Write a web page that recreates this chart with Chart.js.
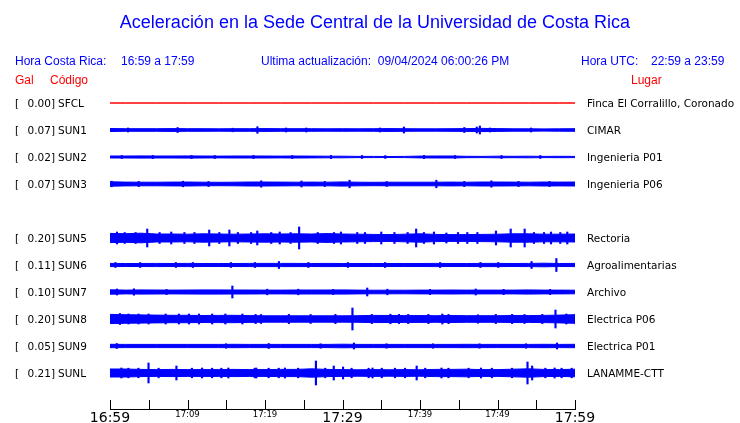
<!DOCTYPE html>
<html>
<head>
<meta charset="utf-8">
<script src="https://cdn.jsdelivr.net/npm/chart.js@4.4.1/dist/chart.umd.min.js"></script>
<style>
  html, body { margin: 0; padding: 0; background: #fff; overflow: hidden; }
  #wrap { position: relative; width: 740px; height: 423px; }
  #trazas { position: absolute; left: 0; top: 0; }
  .txt { position: absolute; white-space: nowrap; line-height: 1; }
  .head { font-family: 'Liberation Sans', Arial, sans-serif; font-size: 12px; color: #0000ff; }
  .red { color: #ff0000; }
  .row { font-family: 'DejaVu Sans', sans-serif; font-size: 10.5px; color: #000; transform: translateY(-50%); }
  .gal { display: inline-block; width: 40px; text-align: right; }
</style>
</head>
<body>
<div id="wrap">
  <canvas id="trazas" width="740" height="423"></canvas>
</div>
<script>
// estaciones (SUN4 no aparece, queda el hueco)
const codigos = ['SFCL', 'SUN1', 'SUN2', 'SUN3', 'SUN5', 'SUN6', 'SUN7', 'SUN8', 'SUN9', 'SUNL'];
const galMax = ['0.00', '0.07', '0.02', '0.07', '0.20', '0.11', '0.10', '0.20', '0.05', '0.21'];
const lugares = ['Finca El Corralillo, Coronado', 'CIMAR', 'Ingenieria P01', 'Ingenieria P06', 'Rectoria',
    'Agroalimentarias', 'Archivo', 'Electrica P06', 'Electrica P01', 'LANAMME-CTT'];

// eje de tiempo (minutos desde 16:59)
const horas = ['16:59', '17:09', '17:19', '17:29', '17:39', '17:49', '17:59'];
const horasGrandes = ['16:59', '17:29', '17:59'];

// envolvente de cada traza, una muestra cada 2 minutos (0..60)
const envSFCL = [0, 0, 0, 0, 0, 0, 0, 0, 0, 0, 0, 0, 0, 0, 0, 0, 0, 0, 0, 0, 0, 0, 0, 0, 0, 0, 0, 0, 0, 0, 0];
const envSUN1 = [1.5, 1.3, 1.3, 1.3, 1.4, 1.3, 1.3, 1.2, 1.3, 1.3, 1.4, 1.3, 1.3, 1.3, 1.2, 1.3, 1.2, 1.3, 1.4, 1.3, 1.2, 1.2, 1.3, 1.4, 1.6, 1.4, 1.2, 1.2, 1.1, 1.2, 1.3];
const envSUN2 = [1.0, 1.0, 1.1, 1.0, 1.0, 1.1, 1.0, 0.9, 1.0, 1.0, 1.0, 0.9, 1.0, 0.9, 0.8, 0.8, 0.6, 0.6, 0.5, 0.6, 0.9, 1.0, 1.0, 0.7, 0.6, 0.8, 0.7, 0.8, 0.6, 0.7, 0.6];
const envSUN3 = [2.2, 1.9, 1.8, 1.8, 1.9, 2.0, 1.8, 1.7, 1.8, 2.0, 2.0, 1.9, 1.8, 1.9, 1.8, 2.1, 1.8, 1.7, 1.8, 1.8, 1.8, 1.8, 1.9, 1.8, 2.0, 2.0, 1.9, 1.8, 2.0, 1.9, 2.0];
const envSUN5 = [4.6, 4.3, 4.8, 4.0, 4.0, 3.8, 4.2, 4.0, 3.8, 4.0, 4.2, 4.0, 4.2, 4.0, 4.4, 4.0, 3.8, 3.6, 3.4, 3.8, 4.2, 3.6, 3.4, 3.4, 3.6, 3.8, 4.2, 4.2, 3.8, 3.8, 4.0];
const envSUN6 = [1.6, 1.5, 1.5, 1.6, 1.5, 1.6, 1.5, 1.5, 1.5, 1.6, 1.6, 1.6, 1.6, 1.5, 1.6, 1.5, 1.5, 1.5, 1.5, 1.5, 1.5, 1.6, 1.5, 1.5, 1.6, 1.6, 1.5, 1.6, 1.8, 1.5, 1.6];
const envSUN7 = [2.2, 1.9, 2.1, 2.0, 1.9, 2.0, 2.1, 2.1, 2.0, 2.0, 1.9, 1.9, 2.0, 2.0, 2.0, 2.1, 1.9, 1.8, 1.8, 1.8, 1.9, 1.9, 2.0, 1.9, 1.9, 1.9, 1.9, 2.1, 1.9, 1.9, 1.8];
const envSUN8 = [4.6, 4.3, 4.1, 3.9, 3.7, 3.7, 3.5, 3.6, 3.7, 3.4, 3.2, 3.2, 3.2, 3.2, 3.2, 3.2, 3.3, 3.6, 3.5, 3.4, 3.4, 3.3, 3.5, 3.3, 3.3, 3.3, 3.5, 3.4, 3.6, 3.9, 4.3];
const envSUN9 = [1.7, 1.6, 1.6, 1.6, 1.6, 1.6, 1.6, 1.6, 1.7, 1.6, 1.6, 1.6, 1.6, 1.6, 1.6, 1.8, 1.6, 1.6, 1.6, 1.6, 1.6, 1.6, 1.6, 1.7, 1.6, 1.6, 1.6, 1.6, 1.7, 1.6, 1.7];
const envSUNL = [4.0, 4.0, 3.6, 3.4, 3.6, 3.4, 3.4, 3.4, 3.6, 3.4, 3.4, 3.6, 3.6, 4.2, 3.6, 3.4, 3.2, 3.4, 3.2, 3.4, 3.2, 3.6, 3.6, 3.8, 3.4, 3.4, 3.8, 4.2, 3.6, 3.4, 3.8];

// picos: [minuto, semiamplitud]
const picSFCL = [];
const picSUN1 = [[3, 2], [9.4, 2.5], [16.5, 1.8], [19.7, 3.3], [23.4, 2], [26, 2], [35.5, 2], [38.6, 3], [46.4, 2.5], [48, 3], [48.4, 4], [49.7, 2], [55, 2]];
const picSUN2 = [[2, 1.5], [6, 1.6], [11, 1.5], [14, 1.5], [19, 1.6], [24, 1.5], [29, 1.6], [33, 1.5], [36, 1.4], [41, 1.6], [45, 1.5], [51, 1.5], [56, 1.5]];
const picSUN3 = [[0.5, 2.8], [4, 2.6], [9.7, 2.8], [13, 2.5], [19.8, 3.2], [25, 3], [28, 2.6], [31.2, 3.8], [36, 2.5], [42.4, 3.8], [46, 2.6], [49.5, 3.2], [53, 2.6], [57, 2.6]];
const picSUN5 = [[1, 6], [4.9, 9], [8, 6], [12.9, 8], [15.5, 8], [19.1, 7], [22, 6], [24.5, 11], [29.9, 6], [33, 5.5], [35.1, 6], [39.6, 9], [41.9, 6], [45, 5.5], [49.9, 7], [51.8, 9], [53.6, 9], [57, 6], [59.1, 6],
    [2, 5.5], [3.4, 5.5], [6.5, 5.5], [9.7, 5.5], [11, 5.5], [14.2, 5.5], [16.6, 5.5], [18.3, 5.5], [20.9, 5.5], [23.4, 5.5], [26.9, 5.5], [29, 5.5], [32, 5.5], [36.8, 5.5], [38.5, 5.5], [40.6, 5.5], [43.5, 5], [46.2, 5.5], [47.5, 5.5], [54.8, 5.5], [56.1, 5.5], [58.2, 5.5]];
const picSUN6 = [[0.6, 2.5], [3.8, 2.5], [8.4, 2.5], [10.6, 2.5], [15.5, 2.5], [18.6, 2.5], [21.7, 3.5], [25.5, 2.5], [30.6, 2.5], [35.4, 2.5], [42.5, 2.5], [47.7, 2.5], [50, 2.5], [54.3, 3.5], [57.5, 6.5]];
const picSUN7 = [[0.6, 3], [2.8, 3.2], [7, 2.6], [15.5, 6], [20, 2.8], [24, 2.8], [28.5, 2.6], [32.9, 4], [35.5, 2.8], [41, 2.6], [46.9, 3], [50.5, 2.6], [56.5, 2.6]];
const picSUN8 = [[0.8, 5.5], [4.5, 5], [8.4, 5], [12.7, 5], [19, 4.5], [25.4, 4.5], [30.8, 11], [35.7, 4.8], [42.4, 5], [47, 4.2], [53, 4.5], [57, 9], [59.6, 5],
    [1.9, 5], [3.2, 5], [6.7, 5], [9.7, 5], [11, 5], [14.4, 5], [16.6, 5], [18.3, 4.6], [22.6, 4.6], [28.6, 4.6], [33.3, 4.6], [36.8, 4.6], [38, 4.6], [40.6, 4.6], [43.2, 4.6], [49.3, 4.6], [51.4, 4.6], [55.3, 4.6], [58.4, 5]];
const picSUN9 = [[0.2, 2.5], [14.3, 2.2], [19.8, 2.5], [26.5, 2.2], [30.8, 3], [35, 2.2], [41, 2.2], [47, 2.2], [53, 2.2], [57, 3]];
const picSUNL = [[0.6, 5], [4.1, 10], [7.7, 7], [11, 5], [14.4, 5], [18, 5], [21.7, 5], [25.7, 12], [28, 7], [29.2, 6], [33, 5], [38.7, 7], [41.9, 5], [47, 5], [53, 11], [53.6, 7], [56.5, 5], [59.8, 10],
    [1.5, 4.8], [2.8, 4.8], [5.4, 4.8], [9.7, 4.8], [12.3, 4.8], [13.5, 4.8], [17.8, 4.8], [19.6, 4.8], [20.9, 4.8], [23.4, 4.8], [26.9, 4.8], [30.3, 4.8], [32.5, 4.8], [34.2, 4.8], [35.9, 4.8], [37.2, 4.8], [39.8, 4.8], [42.8, 4.8], [45.4, 4.8], [48.4, 4.8], [51, 4.8], [55.3, 4.8], [57.4, 4.8], [58.7, 4.8]];

const envolventes = [envSFCL, envSUN1, envSUN2, envSUN3, envSUN5, envSUN6, envSUN7, envSUN8, envSUN9, envSUNL];
const picos = [picSFCL, picSUN1, picSUN2, picSUN3, picSUN5, picSUN6, picSUN7, picSUN8, picSUN9, picSUNL];

const FILA = 27;
const AZUL = '#0000ff';
const ROJO = '#ff0000';
const centro = i => (i > 3 ? i + 1 : i) * FILA;

const datasets = [];
codigos.forEach((cod, i) => {
    const c = centro(i);
    const color = i === 0 ? ROJO : AZUL;
    const env = envolventes[i];
    datasets.push({
        type: 'line',
        data: env.map((a, j) => ({ x: j * 2, y: c - a })),
        borderColor: color,
        backgroundColor: color,
        borderWidth: 1,
        pointRadius: 0,
        fill: '+1'
    });
    datasets.push({
        type: 'line',
        data: env.map((a, j) => ({ x: j * 2, y: c + a })),
        borderColor: color,
        borderWidth: 1,
        pointRadius: 0,
        fill: false
    });
    datasets.push({
        type: 'bar',
        data: picos[i].map(([m, a]) => ({ x: m, y: [c - a, c + a] })),
        backgroundColor: color,
        borderWidth: 0,
        barThickness: 1.5
    });
});

const marcasEje = {
    id: 'marcasEje',
    afterDraw(chart) {
        const { ctx, chartArea, scales } = chart;
        ctx.save();
        ctx.strokeStyle = '#000';
        ctx.lineWidth = 1;
        ctx.beginPath();
        scales.x.ticks.forEach(t => {
            const px = Math.round(scales.x.getPixelForValue(t.value)) + 0.5;
            ctx.moveTo(px, chartArea.bottom);
            ctx.lineTo(px, chartArea.bottom - 9);
        });
        ctx.moveTo(chartArea.left, Math.round(chartArea.bottom) + 0.5);
        ctx.lineTo(chartArea.right + 1, Math.round(chartArea.bottom) + 0.5);
        ctx.stroke();
        ctx.restore();
    }
};

const fuenteHora = ctx => {
    const lbl = ctx.tick ? horas[ctx.tick.value / 10] : null;
    return { family: 'DejaVu Sans', size: horasGrandes.includes(lbl) ? 14 : 8.5 };
};

const chart = new Chart(document.getElementById('trazas'), {
    type: 'line',
    data: { datasets },
    options: {
        responsive: false,
        animation: false,
        devicePixelRatio: 1,
        layout: { padding: { top: 90, left: 110, right: 165, bottom: 0 } },
        plugins: { legend: { display: false }, tooltip: { enabled: false } },
        scales: {
            x: {
                type: 'linear',
                min: 0,
                max: 60,
                offset: false,
                grid: { display: false, drawTicks: false },
                border: { display: false },
                afterFit: s => { s.height = 14; },
                ticks: {
                    stepSize: 5,
                    autoSkip: false,
                    maxRotation: 0,
                    padding: 1,
                    color: '#000',
                    font: fuenteHora,
                    callback: v => (v % 10 === 0 ? horas[v / 10] : '')
                }
            },
            y: {
                display: false,
                reverse: true,
                min: -13,
                max: 306
            }
        }
    },
    plugins: [marcasEje]
});

const wrap = document.getElementById('wrap');
const texto = (html, x, y, cls) => {
    const d = document.createElement('div');
    d.className = 'txt ' + cls;
    d.style.left = x + 'px';
    d.style.top = y + 'px';
    d.innerHTML = html;
    wrap.appendChild(d);
    return d;
};

const titulo = texto('Aceleración en la Sede Central de la Universidad de Costa Rica', 5, 13, 'head');
titulo.style.fontSize = '18px';
titulo.style.width = '740px';
titulo.style.textAlign = 'center';

texto('Hora Costa Rica:', 15, 55, 'head');
texto('16:59 a 17:59', 121, 55, 'head');
texto('Ultima actualización:&nbsp; 09/04/2024 06:00:26 PM', 261, 55, 'head');
texto('Hora UTC:', 581, 55, 'head');
texto('22:59 a 23:59', 651, 55, 'head');
texto('Gal', 15, 74, 'head red');
texto('Código', 50, 74, 'head red');
texto('Lugar', 631, 74, 'head red');

codigos.forEach((cod, i) => {
    const y = chart.scales.y.getPixelForValue(centro(i));
    texto('[', 15, y, 'row');
    texto('<span class="gal">' + galMax[i] + ']</span>', 15, y, 'row');
    texto(cod, 58, y, 'row');
    texto(lugares[i], 587, y, 'row');
});
</script>
</body>
</html>
